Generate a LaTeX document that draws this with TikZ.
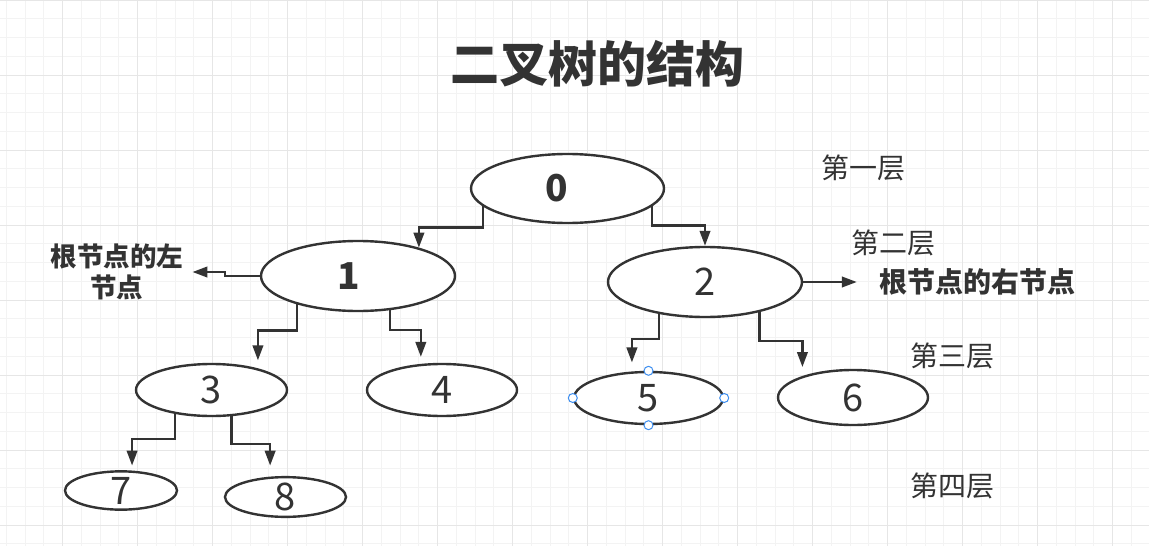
\documentclass[tikz,border=0pt]{standalone}
\usepackage{fontspec}
\usepackage{xcolor}
\usetikzlibrary{arrows.meta,positioning,shapes.geometric}
\newfontfamily\cjk{Noto Sans CJK SC}
\definecolor{ink}{HTML}{333333}
\definecolor{gridmin}{HTML}{F3F3F3}
\definecolor{gridmaj}{HTML}{E6E6E6}
\definecolor{handleblue}{HTML}{3D8EF0}
\tikzset{
  treenode/.style={
    ellipse, draw=ink, fill=white, line width=2.4pt,
    inner sep=0pt, text=ink,
    font=\cjk\fontsize{38}{38}\selectfont
  },
  boldnode/.style={
    treenode, font=\cjk\bfseries\fontsize{37}{37}\selectfont
  },
  link/.style={draw=ink, line width=2.4pt, -{Triangle[length=15pt,width=10.5pt]}},
  layertext/.style={
    text=ink, inner sep=0pt,
    font=\cjk\fontsize{28}{28}\selectfont
  },
  sidetext/.style={
    text=ink, inner sep=0pt, align=center,
    font=\cjk\bfseries\fontsize{26.5}{31}\selectfont
  },
  titletext/.style={
    text=ink, inner sep=0pt,
    font=\cjk\bfseries\fontsize{49}{49}\selectfont
  },
  handle/.style={
    circle, draw=handleblue, fill=white, line width=1pt,
    inner sep=0pt, minimum size=9pt
  },
  gridminor/.style={draw=gridmin, line width=1pt},
  gridmajor/.style={draw=gridmaj, line width=1pt}
}

\begin{document}
\begin{tikzpicture}[x=1pt,y=-1pt]
  \useasboundingbox (0,0) rectangle (1149,546);
  \fill[white] (0,0) rectangle (1149,546);
  % background grid
  \foreach \k in {0,...,61}
    \draw[gridminor] (6.25+18.75*\k,0) -- (6.25+18.75*\k,546);
  \foreach \k in {0,...,29}
    \draw[gridminor] (0,18.75*\k) -- (1149,18.75*\k);
  \foreach \k in {0,...,14}
    \draw[gridmajor] (62.5+75*\k,0) -- (62.5+75*\k,546);
  \foreach \k in {0,...,7}
    \draw[gridmajor] (0,75*\k) -- (1149,75*\k);

  \node[titletext] (title) at (597,64) {二叉树的结构};

  % tree nodes
  \node[boldnode, minimum width=193pt, minimum height=69pt] (n0) at (567.5,188.5) {0\hspace*{22pt}};
  \node[boldnode, minimum width=194pt, minimum height=70pt] (n1) at (358,276) {1\hspace*{18pt}};
  \node[treenode, minimum width=194pt, minimum height=70pt] (n2) at (705,282) {2};
  \node[treenode, minimum width=151pt, minimum height=52pt] (n3) at (211.5,390) {3};
  \node[treenode, minimum width=150pt, minimum height=52pt] (n4) at (442,390) {4};
  \node[treenode, minimum width=149pt, minimum height=52pt] (n5) at (648.5,398) {5};
  \node[treenode, minimum width=150pt, minimum height=55pt] (n6) at (853,397.5) {6};
  \node[treenode, minimum width=112pt, minimum height=35pt] (n7) at (121,490.5) {7};
  \node[treenode, minimum width=121pt, minimum height=32pt] (n8) at (285.5,497) {8};

  % side texts
  \node[sidetext] (lblL) at (117,272) {根节点的左\\节点};
  \node[sidetext, font=\cjk\bfseries\fontsize{28}{28}\selectfont] (lblR) at (977,282) {根节点的右节点};
  \node[layertext] (lay1) at (863,168) {第一层};
  \node[layertext] (lay2) at (893.5,242.5) {第二层};
  \node[layertext] (lay3) at (952.5,356) {第三层};
  \node[layertext] (lay4) at (952.5,486) {第四层};

  % connectors
  \draw[link] (n0.192) -- ++(0,21) -| (n1.25);
  \draw[link] (n0.348) -- ++(0,19) -| (n2.north);
  \draw[link] (n1.west) -- ++(-35,0) |- ([xshift=9pt]lblL.east);
  \draw[link, shorten >=22pt] (n2.east) -- (lblR.west);
  \draw[link, shorten >=8pt] (n1.205) -- ++(0,26) -| (n3.25);
  \draw[link, shorten >=7pt] (n1.313) -- ++(0,20) -| (n4.129);
  \draw[link, shorten >=9pt] (n2.215) -- ++(0,25) -| (n5.122);
  \draw[link, shorten >=9pt] (n2.331) -- ++(0,29) -| (n6.157);
  \draw[link, shorten >=5pt] (n3.213) -- ++(0,25) -| (n7.61);
  \draw[link, shorten >=11pt] (n3.307) -- ++(0,28) -| (n8.127);

  % selection handles on node 5
  \node[handle] (h5n) at (n5.north) {};
  \node[handle] (h5s) at (n5.south) {};
  \node[handle] (h5w) at (n5.west) {};
  \node[handle] (h5e) at (n5.east) {};
\end{tikzpicture}
\end{document}
